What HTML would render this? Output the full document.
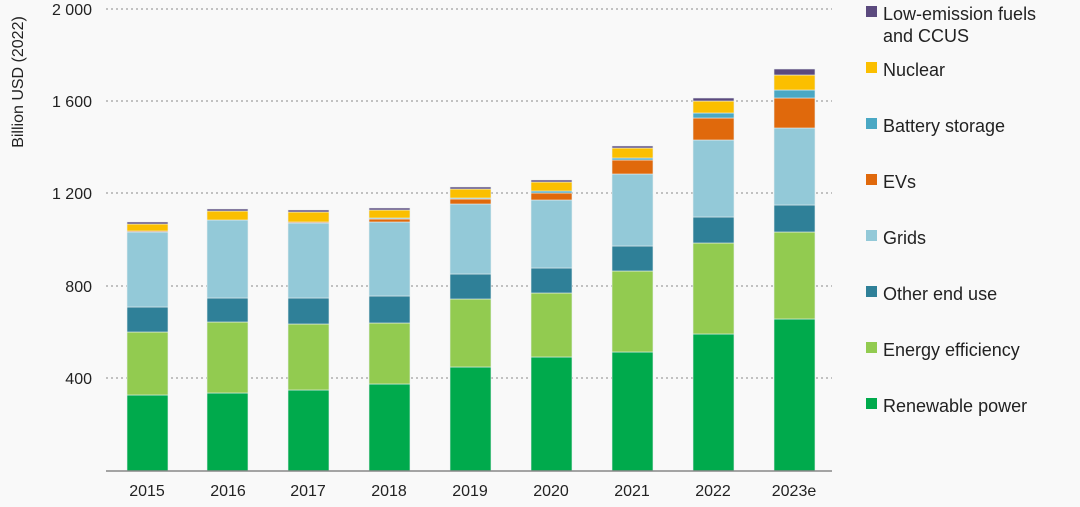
<!DOCTYPE html>
<html><head><meta charset="utf-8"><style>
body{margin:0;background:#f9f9f9;}
svg{display:block;font-family:"Liberation Sans",Arial,sans-serif;}
</style></head><body>
<svg width="1080" height="507" viewBox="0 0 1080 507">
<rect width="1080" height="507" fill="#f9f9f9"/>
<g stroke="#a0a0a0" stroke-width="1.3" stroke-dasharray="2,3">
<line x1="106" x2="832" y1="9" y2="9"/><line x1="106" x2="832" y1="101" y2="101"/>
<line x1="106" x2="832" y1="193" y2="193"/><line x1="106" x2="832" y1="286" y2="286"/>
<line x1="106" x2="832" y1="378" y2="378"/>
</g>
<g font-size="16" fill="#222" text-anchor="end">
<text x="92" y="15">2 000</text><text x="92" y="107">1 600</text><text x="92" y="199">1 200</text>
<text x="92" y="292">800</text><text x="92" y="384">400</text>
</g>
<text transform="translate(23,82) rotate(-90)" font-size="16" fill="#222" text-anchor="middle">Billion USD (2022)</text>
<g stroke="#e8eef0" stroke-width="0.6">
<rect x="127" y="395" width="41" height="76" fill="#00aa4c"/>
<rect x="127" y="332" width="41" height="63" fill="#92cb50"/>
<rect x="127" y="307" width="41" height="25" fill="#2f8098"/>
<rect x="127" y="232" width="41" height="75" fill="#93c9d8"/>
<rect x="127" y="231" width="41" height="1" fill="#e0690c"/>
<rect x="127" y="224" width="41" height="7" fill="#fbbf00"/>
<rect x="127" y="222" width="41" height="2" fill="#5b4a7e"/>
<rect x="207" y="393" width="41" height="78" fill="#00aa4c"/>
<rect x="207" y="322" width="41" height="71" fill="#92cb50"/>
<rect x="207" y="298" width="41" height="24" fill="#2f8098"/>
<rect x="207" y="220" width="41" height="78" fill="#93c9d8"/>
<rect x="207" y="211" width="41" height="9" fill="#fbbf00"/>
<rect x="207" y="209" width="41" height="2" fill="#5b4a7e"/>
<rect x="288" y="390" width="41" height="81" fill="#00aa4c"/>
<rect x="288" y="324" width="41" height="66" fill="#92cb50"/>
<rect x="288" y="298" width="41" height="26" fill="#2f8098"/>
<rect x="288" y="223" width="41" height="75" fill="#93c9d8"/>
<rect x="288" y="222" width="41" height="1" fill="#e0690c"/>
<rect x="288" y="212" width="41" height="10" fill="#fbbf00"/>
<rect x="288" y="210" width="41" height="2" fill="#5b4a7e"/>
<rect x="369" y="384" width="41" height="87" fill="#00aa4c"/>
<rect x="369" y="323" width="41" height="61" fill="#92cb50"/>
<rect x="369" y="296" width="41" height="27" fill="#2f8098"/>
<rect x="369" y="222" width="41" height="74" fill="#93c9d8"/>
<rect x="369" y="219" width="41" height="3" fill="#e0690c"/>
<rect x="369" y="218" width="41" height="1" fill="#4aa8c4"/>
<rect x="369" y="210" width="41" height="8" fill="#fbbf00"/>
<rect x="369" y="208" width="41" height="2" fill="#5b4a7e"/>
<rect x="450" y="367" width="41" height="104" fill="#00aa4c"/>
<rect x="450" y="299" width="41" height="68" fill="#92cb50"/>
<rect x="450" y="274" width="41" height="25" fill="#2f8098"/>
<rect x="450" y="204" width="41" height="70" fill="#93c9d8"/>
<rect x="450" y="199" width="41" height="5" fill="#e0690c"/>
<rect x="450" y="198" width="41" height="1" fill="#4aa8c4"/>
<rect x="450" y="189" width="41" height="9" fill="#fbbf00"/>
<rect x="450" y="187" width="41" height="2" fill="#5b4a7e"/>
<rect x="531" y="357" width="41" height="114" fill="#00aa4c"/>
<rect x="531" y="293" width="41" height="64" fill="#92cb50"/>
<rect x="531" y="268" width="41" height="25" fill="#2f8098"/>
<rect x="531" y="200" width="41" height="68" fill="#93c9d8"/>
<rect x="531" y="193" width="41" height="7" fill="#e0690c"/>
<rect x="531" y="191" width="41" height="2" fill="#4aa8c4"/>
<rect x="531" y="182" width="41" height="9" fill="#fbbf00"/>
<rect x="531" y="180" width="41" height="2" fill="#5b4a7e"/>
<rect x="612" y="352" width="41" height="119" fill="#00aa4c"/>
<rect x="612" y="271" width="41" height="81" fill="#92cb50"/>
<rect x="612" y="246" width="41" height="25" fill="#2f8098"/>
<rect x="612" y="174" width="41" height="72" fill="#93c9d8"/>
<rect x="612" y="160" width="41" height="14" fill="#e0690c"/>
<rect x="612" y="158" width="41" height="2" fill="#4aa8c4"/>
<rect x="612" y="148" width="41" height="10" fill="#fbbf00"/>
<rect x="612" y="146" width="41" height="2" fill="#5b4a7e"/>
<rect x="693" y="334" width="41" height="137" fill="#00aa4c"/>
<rect x="693" y="243" width="41" height="91" fill="#92cb50"/>
<rect x="693" y="217" width="41" height="26" fill="#2f8098"/>
<rect x="693" y="140" width="41" height="77" fill="#93c9d8"/>
<rect x="693" y="118" width="41" height="22" fill="#e0690c"/>
<rect x="693" y="113" width="41" height="5" fill="#4aa8c4"/>
<rect x="693" y="101" width="41" height="12" fill="#fbbf00"/>
<rect x="693" y="98" width="41" height="3" fill="#5b4a7e"/>
<rect x="774" y="319" width="41" height="152" fill="#00aa4c"/>
<rect x="774" y="232" width="41" height="87" fill="#92cb50"/>
<rect x="774" y="205" width="41" height="27" fill="#2f8098"/>
<rect x="774" y="128" width="41" height="77" fill="#93c9d8"/>
<rect x="774" y="98" width="41" height="30" fill="#e0690c"/>
<rect x="774" y="90" width="41" height="8" fill="#4aa8c4"/>
<rect x="774" y="75" width="41" height="15" fill="#fbbf00"/>
<rect x="774" y="69" width="41" height="6" fill="#5b4a7e"/>
</g>
<line x1="106" x2="832" y1="471" y2="471" stroke="#888" stroke-width="1.5"/>
<g font-size="16" fill="#222" text-anchor="middle">
<text x="147" y="496">2015</text><text x="228" y="496">2016</text><text x="308" y="496">2017</text>
<text x="389" y="496">2018</text><text x="470" y="496">2019</text><text x="551" y="496">2020</text>
<text x="632" y="496">2021</text><text x="713" y="496">2022</text><text x="794" y="496">2023e</text>
</g>
<g font-size="18" fill="#222">
<rect x="866" y="6" width="11" height="11" fill="#5b4a7e"/><text x="883" y="20">Low-emission fuels</text><text x="883" y="42">and CCUS</text>
<rect x="866" y="62" width="11" height="11" fill="#fbbf00"/><text x="883" y="76">Nuclear</text>
<rect x="866" y="118" width="11" height="11" fill="#4aa8c4"/><text x="883" y="132">Battery storage</text>
<rect x="866" y="174" width="11" height="11" fill="#e0690c"/><text x="883" y="188">EVs</text>
<rect x="866" y="230" width="11" height="11" fill="#93c9d8"/><text x="883" y="244">Grids</text>
<rect x="866" y="286" width="11" height="11" fill="#2f8098"/><text x="883" y="300">Other end use</text>
<rect x="866" y="342" width="11" height="11" fill="#92cb50"/><text x="883" y="356">Energy efficiency</text>
<rect x="866" y="398" width="11" height="11" fill="#00aa4c"/><text x="883" y="412">Renewable power</text>
</g>
</svg>
</body></html>
